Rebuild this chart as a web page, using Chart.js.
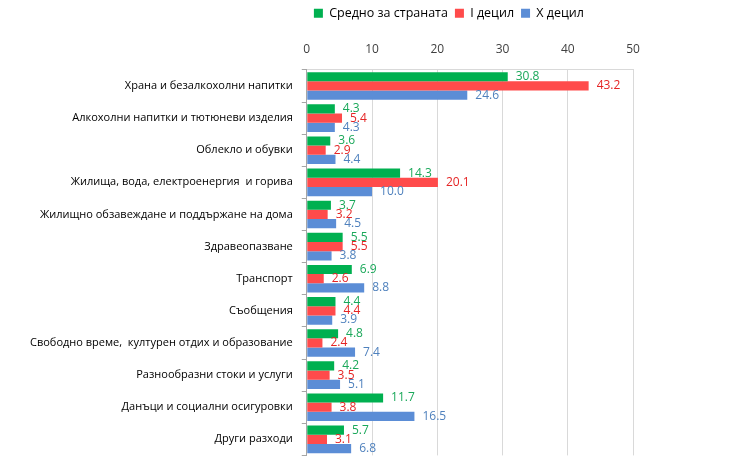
<!DOCTYPE html>
<html>
<head>
<meta charset="utf-8">
<script src="https://cdn.jsdelivr.net/npm/chart.js@4/dist/chart.umd.min.js"></script>
<style>
  html, body { margin: 0; padding: 0; background: #fff; }
  #wrap { width: 730px; height: 471px; }
</style>
</head>
<body>
<div id="wrap"><canvas id="chart"></canvas></div>
<script>
// Data
const categories = [
  'Храна и безалкохолни напитки',
  'Алкохолни напитки и тютюневи изделия',
  'Облекло и обувки',
  'Жилища, вода, електроенергия  и горива',
  'Жилищно обзавеждане и поддържане на дома',
  'Здравеопазване',
  'Транспорт',
  'Съобщения',
  'Свободно време,  културен отдих и образование',
  'Разнообразни стоки и услуги',
  'Данъци и социални осигуровки',
  'Други разходи'
];
const seriesNames = ['Средно за страната', 'I децил', 'X децил'];
const avgValues = [30.8, 4.3, 3.6, 14.3, 3.7, 5.5, 6.9, 4.4, 4.8, 4.2, 11.7, 5.7];
const firstDecile = [43.2, 5.4, 2.9, 20.1, 3.2, 5.5, 2.6, 4.4, 2.4, 3.5, 3.8, 3.1];
const tenthDecile = [24.6, 4.3, 4.4, 10.0, 4.5, 3.8, 8.8, 3.9, 7.4, 5.1, 16.5, 6.8];
const xTicks = [0, 10, 20, 30, 40, 50];

const barColors = ['#00b050', '#ff4b4b', '#5b8dd6'];
const labelColors = ['#1aa85a', '#e52525', '#4f81bd'];
const FONT = 'Open Sans';

// Value labels at bar ends
const valueLabels = {
  id: 'valueLabels',
  afterDatasetsDraw(chart) {
    const ctx = chart.ctx;
    ctx.save();
    ctx.font = '12px "' + FONT + '"';
    ctx.textAlign = 'left';
    ctx.textBaseline = 'middle';
    chart.data.datasets.forEach((ds, i) => {
      const meta = chart.getDatasetMeta(i);
      ctx.fillStyle = labelColors[i];
      meta.data.forEach((bar, j) => {
        ctx.fillText(ds.data[j].toFixed(1), bar.x + 8, bar.y);
      });
    });
    ctx.restore();
  }
};

// Center legend a bit left of the plot middle, like the original
const legendOverPlot = {
  id: 'legendOverPlot',
  afterLayout(chart) {
    const lg = chart.legend;
    const target = (chart.chartArea.left + chart.chartArea.right) / 2 - 21;
    const shift = target - (lg.left + lg.right) / 2;
    lg.left += shift;
    lg.right += shift;
  }
};

new Chart(document.getElementById('chart'), {
  type: 'bar',
  data: {
    labels: categories,
    datasets: [
      { label: seriesNames[0], data: avgValues, backgroundColor: barColors[0] },
      { label: seriesNames[1], data: firstDecile, backgroundColor: barColors[1] },
      { label: seriesNames[2], data: tenthDecile, backgroundColor: barColors[2] }
    ]
  },
  options: {
    indexAxis: 'y',
    responsive: true,
    maintainAspectRatio: false,
    animation: false,
    devicePixelRatio: 1,
    datasets: {
      bar: { categoryPercentage: 0.86, barPercentage: 1.0 }
    },
    layout: { padding: { top: 0, right: 97, bottom: 12, left: 21 } },
    plugins: {
      legend: {
        position: 'top',
        labels: {
          boxWidth: 9,
          boxHeight: 9,
          padding: 7,
          color: '#000',
          font: { family: FONT, size: 12.5 }
        }
      },
      tooltip: { enabled: false }
    },
    scales: {
      x: {
        position: 'top',
        min: 0,
        max: 50,
        afterBuildTicks(scale) {
          scale.ticks = xTicks.map(v => ({ value: v }));
        },
        ticks: {
          color: '#404040',
          padding: 13,
          font: { family: FONT, size: 12 }
        },
        grid: { color: '#d9d9d9', drawTicks: false },
        border: { display: true, color: '#d9d9d9' }
      },
      y: {
        ticks: {
          color: '#000',
          padding: 9,
          font: { family: FONT, size: 11 }
        },
        grid: { drawOnChartArea: false, tickLength: 5, color: '#a6a6a6' },
        border: { color: '#a6a6a6' }
      }
    }
  },
  plugins: [valueLabels, legendOverPlot]
});
</script>
</body>
</html>
